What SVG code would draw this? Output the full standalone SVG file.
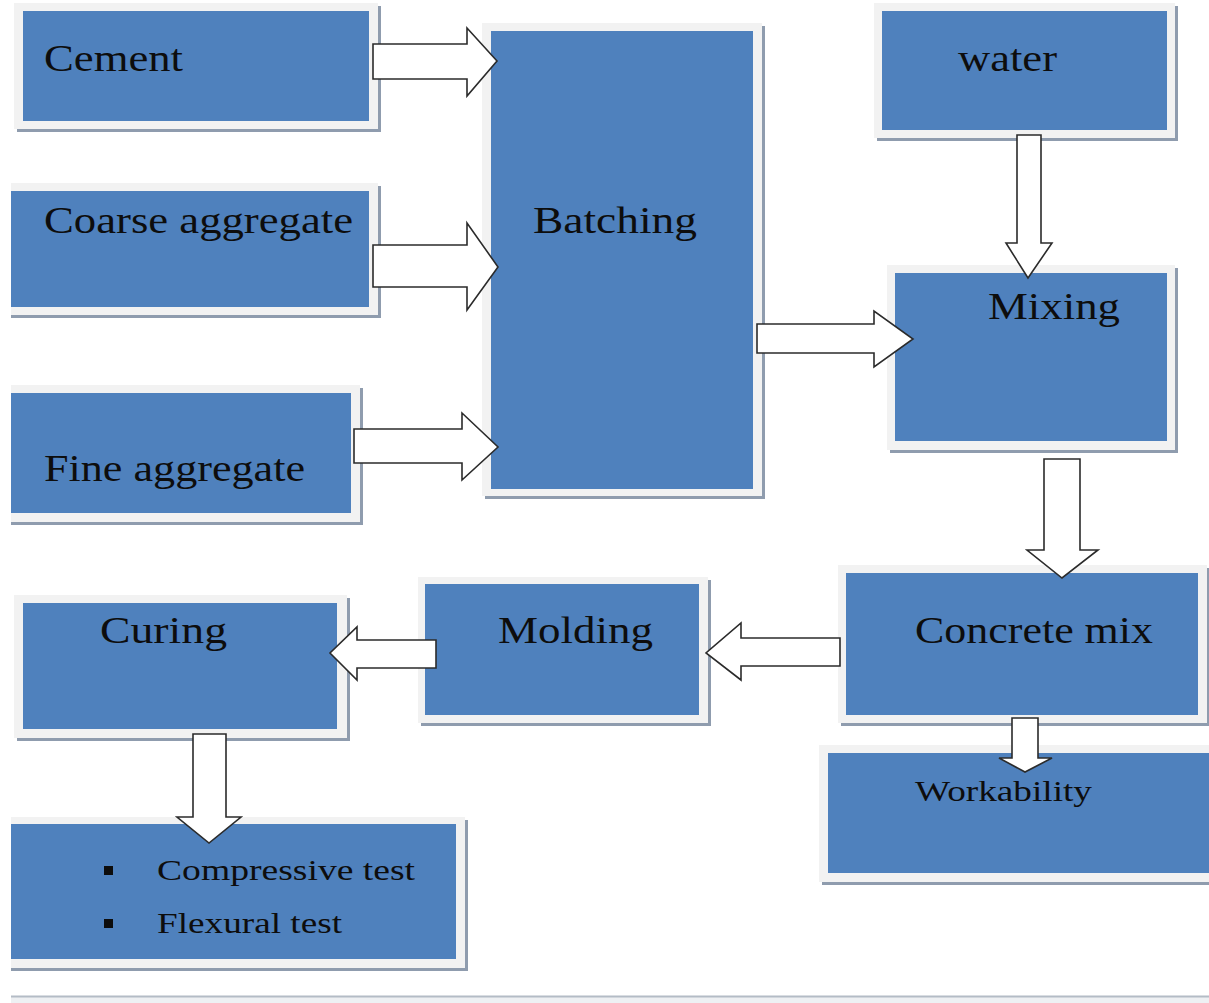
<svg xmlns="http://www.w3.org/2000/svg" width="1209" height="1003" viewBox="0 0 1209 1003">
<style>
.sh{fill:#8f9cae}
.fr{fill:#f2f2f2}
.bx{fill:#4f81bd}
.t{font-family:"Liberation Serif","Times New Roman",serif;font-size:37px;fill:#0d0d0d}
.s{font-size:29px}
.ar{fill:#ffffff;stroke:#2b2b2b;stroke-width:1.6;stroke-linejoin:miter}
</style>
<rect width="1209" height="1003" fill="#ffffff"/>

<g id="node-cement">
<rect class="sh" x="17" y="6" width="364" height="126"/>
<rect class="fr" x="14" y="3" width="364" height="126"/>
<rect class="bx" x="23" y="11" width="346" height="110"/>
<text class="t" x="44" y="71" textLength="139" lengthAdjust="spacingAndGlyphs">Cement</text>
</g>

<g id="node-coarse">
<rect class="sh" x="11" y="186" width="370" height="132"/>
<rect class="fr" x="11" y="183" width="367" height="132"/>
<rect class="bx" x="11" y="191" width="358" height="116"/>
<text class="t" x="44" y="233" textLength="309" lengthAdjust="spacingAndGlyphs">Coarse aggregate</text>
</g>

<g id="node-fine">
<rect class="sh" x="11" y="388" width="352" height="137"/>
<rect class="fr" x="11" y="385" width="349" height="137"/>
<rect class="bx" x="11" y="393" width="340" height="120"/>
<text class="t" x="44" y="481" textLength="261" lengthAdjust="spacingAndGlyphs">Fine aggregate</text>
</g>

<g id="node-batching">
<rect class="sh" x="485" y="26" width="280" height="473"/>
<rect class="fr" x="482" y="23" width="280" height="473"/>
<rect class="bx" x="491" y="31" width="262" height="458"/>
<text class="t" x="533" y="233" textLength="164" lengthAdjust="spacingAndGlyphs">Batching</text>
</g>

<g id="node-water">
<rect class="sh" x="877" y="6" width="301" height="135"/>
<rect class="fr" x="874" y="3" width="301" height="135"/>
<rect class="bx" x="882" y="11" width="285" height="119"/>
<text class="t" x="958" y="71" textLength="99" lengthAdjust="spacingAndGlyphs">water</text>
</g>

<g id="node-mixing">
<rect class="sh" x="890" y="268" width="288" height="185"/>
<rect class="fr" x="887" y="265" width="288" height="185"/>
<rect class="bx" x="895" y="273" width="272" height="168"/>
<text class="t" x="988" y="319" textLength="132" lengthAdjust="spacingAndGlyphs">Mixing</text>
</g>

<g id="node-concrete">
<rect class="sh" x="841" y="568" width="368" height="158"/>
<rect class="fr" x="838" y="565" width="369" height="158"/>
<rect class="bx" x="846" y="573" width="352" height="142"/>
<text class="t" x="915" y="643" textLength="238" lengthAdjust="spacingAndGlyphs">Concrete mix</text>
</g>

<g id="node-molding">
<rect class="sh" x="421" y="580" width="290" height="146"/>
<rect class="fr" x="418" y="577" width="290" height="146"/>
<rect class="bx" x="425" y="584" width="274" height="131"/>
<text class="t" x="498" y="643" textLength="155" lengthAdjust="spacingAndGlyphs">Molding</text>
</g>

<g id="node-curing">
<rect class="sh" x="17" y="598" width="333" height="143"/>
<rect class="fr" x="14" y="595" width="333" height="143"/>
<rect class="bx" x="23" y="603" width="314" height="126"/>
<text class="t" x="100" y="643" textLength="127" lengthAdjust="spacingAndGlyphs">Curing</text>
</g>

<g id="node-workability">
<rect class="sh" x="822" y="748" width="390" height="137"/>
<rect class="fr" x="819" y="745" width="390" height="137"/>
<rect class="bx" x="828" y="753" width="381" height="120"/>
<text class="t s" x="915" y="801" textLength="177" lengthAdjust="spacingAndGlyphs">Workability</text>
</g>

<g id="node-tests">
<rect class="sh" x="11" y="820" width="457" height="151"/>
<rect class="fr" x="11" y="817" width="454" height="151"/>
<rect class="bx" x="11" y="824" width="445" height="135"/>
<rect x="104" y="866" width="9" height="9" fill="#0d0d0d"/>
<rect x="104" y="919" width="9" height="9" fill="#0d0d0d"/>
<text class="t s" x="157" y="880" textLength="258" lengthAdjust="spacingAndGlyphs">Compressive test</text>
<text class="t s" x="157" y="933" textLength="185" lengthAdjust="spacingAndGlyphs">Flexural test</text>
</g>

<g id="connectors">
<polygon class="ar" points="373,44 467,44 467,28 497,61 467,96 467,79 373,79"/>
<polygon class="ar" points="373,245 467,245 467,223 498,267 467,310 467,287 373,287"/>
<polygon class="ar" points="354,429 462,429 462,413 498,447 462,480 462,463 354,463"/>
<polygon class="ar" points="757,324 874,324 874,311 913,339 874,367 874,353 757,353"/>
<polygon class="ar" points="1017,135 1041,135 1041,243 1052,243 1028,278 1006,243 1017,243"/>
<polygon class="ar" points="1044,459 1080,459 1080,550 1098,550 1062,578 1027,550 1044,550"/>
<polygon class="ar" points="1012,718 1038,718 1038,758 1052,758 1025,772 999,758 1012,758"/>
<polygon class="ar" points="840,638 741,638 741,623 706,653 741,680 741,666 840,666"/>
<polygon class="ar" points="436,640 357,640 357,627 330,653 357,680 357,668 436,668"/>
<polygon class="ar" points="193,734 226,734 226,817 241,817 209,843 177,817 193,817"/>
</g>

<rect x="11" y="996" width="1198" height="7" fill="#eef0f3"/>
<line x1="11" y1="996.5" x2="1209" y2="996.5" stroke="#b4bcc6" stroke-width="2"/>
</svg>
